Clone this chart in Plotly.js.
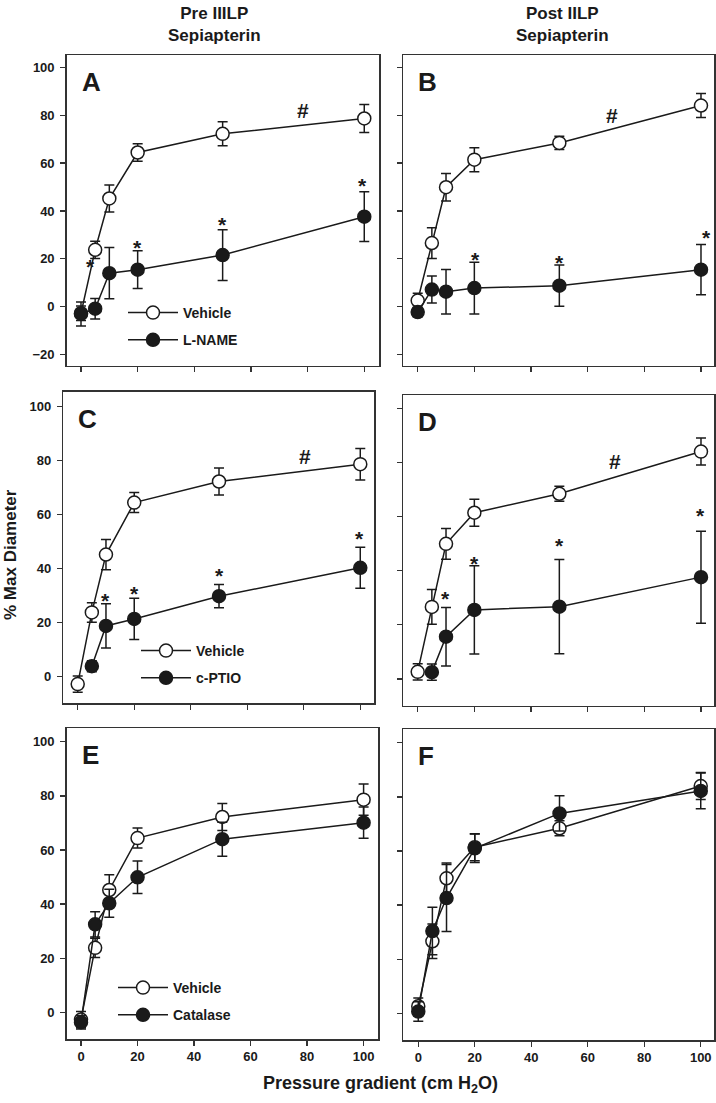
<!DOCTYPE html>
<html>
<head>
<meta charset="utf-8">
<script src="https://cdn.plot.ly/plotly-3.0.1.min.js"></script>
<style>html,body{margin:0;padding:0;background:#fff;}#chart{width:716px;height:1103px;}</style>
</head>
<body>
<div id="chart"></div>
<script>
// ---- data ----
const pressure = [0, 5, 10, 20, 50, 100];
const pressureFrom5 = [5, 10, 20, 50, 100];

// Pre IIILP vehicle (panels A, C, E)
const preVehicle = [-2.7, 23.8, 45.2, 64.4, 72.2, 78.6];
const preVehicleErr = [3.0, 3.6, 5.6, 3.7, 5.0, 5.8];
// Post IILP vehicle (panels B, D, F)
const postVehicle = [2.6, 26.6, 49.9, 61.4, 68.4, 84.0];
const postVehicleErr = [3.0, 6.4, 5.7, 5.0, 2.8, 5.0];

const preLNAME = [-3.0, -0.8, 14.0, 15.5, 21.6, 37.6];
const preLNAMEErr = [5.0, 4.3, 10.7, 7.9, 10.6, 10.4];
const postLNAME = [-2.2, 7.2, 6.3, 7.8, 8.8, 15.5];
const postLNAMEErr = [2.0, 5.6, 9.3, 10.8, 8.6, 10.5];

const preCPTIO = [3.9, 18.8, 21.4, 29.8, 40.3];
const preCPTIOErr = [2.0, 8.2, 7.6, 4.3, 7.6];
const postCPTIO = [2.5, 15.6, 25.5, 26.7, 37.6];
const postCPTIOErr = [3.0, 10.8, 16.3, 17.4, 17.0];

const preCatalase = [-3.7, 32.5, 40.3, 49.9, 64.0, 70.1];
const preCatalaseErr = [2.5, 4.7, 5.2, 6.0, 6.3, 5.8];
const postCatalase = [0.6, 30.4, 42.6, 61.0, 73.9, 82.2];
const postCatalaseErr = [3.6, 8.8, 12.4, 5.3, 6.5, 6.6];

// significance marks: [x, y]
const starsA = [[3.5, 18.8], [20, 26.9], [50, 36.6], [99.5, 52.5]];
const hashA = [78.5, 82.1];
const starsB = [[20.5, 21.8], [50, 20.6], [102, 30.9]];
const hashB = [68.5, 80];
const starsC = [[10, 30.2], [20, 32.7], [50, 39.4], [99.7, 52.8]];
const hashC = [80.4, 81.6];
const starsD = [[9.9, 31.7], [20.2, 44.6], [50.2, 51.3], [100, 62.4]];
const hashD = [69.6, 80.5];

const panelLetters = ['A', 'B', 'C', 'D', 'E', 'F'];
const colTitles = ['Pre IIILP<br>Sepiapterin', 'Post IILP<br>Sepiapterin'];
const xTitle = 'Pressure gradient (cm H<sub>2</sub>O)';
const yTitle = '% Max Diameter';
const legendNames = [['Vehicle', 'L-NAME'], ['Vehicle', 'c-PTIO'], ['Vehicle', 'Catalase']];

// ---- layout helpers ----
const W = 716, H = 1103;
const FONT = 'Liberation Sans, Arial, sans-serif';
const INK = '#1a1a1a';
const BOLD = 700;
function dx(a, b) { return [a / W, b / W]; }
function dy(top, bottom) { return [1 - bottom / H, 1 - top / H]; }

const panels = [
  {x: [66.7, 379], y: [55, 365.7], xr: [-5.05, 105.2], yr: [-24.6, 105.1], xl: false, yl: true},
  {x: [403.3, 714.3], y: [55, 365.7], xr: [-5.08, 104.7], yr: [-24.6, 105.1], xl: false, yl: false},
  {x: [63.3, 374.3], y: [391.7, 703.3], xr: [-5.1, 104.96], yr: [-9.8, 105.4], xl: false, yl: true},
  {x: [403.3, 714.3], y: [395, 705.7], xr: [-5.08, 104.7], yr: [-9.9, 104.9], xl: false, yl: false},
  {x: [66.7, 378.3], y: [728.3, 1039], xr: [-5.06, 105.2], yr: [-9.9, 105], xl: true, yl: true},
  {x: [403.3, 714.3], y: [729.3, 1040], xr: [-5.3, 104.8], yr: [-9.9, 105], xl: true, yl: false}
];

const layout = {
  width: W, height: H,
  margin: {l: 0, r: 0, t: 0, b: 0},
  paper_bgcolor: '#fff', plot_bgcolor: '#fff',
  font: {family: FONT, color: INK, size: 13, weight: BOLD},
  showlegend: true,
  annotations: [], shapes: []
};

panels.forEach((p, i) => {
  const n = i === 0 ? '' : String(i + 1);
  layout['xaxis' + n] = {
    domain: dx(p.x[0], p.x[1]), range: p.xr, anchor: 'y' + n,
    showgrid: false, zeroline: false, showline: true, mirror: true,
    linecolor: '#333', linewidth: 1.5,
    ticks: 'outside', ticklen: 5, tickwidth: 1.2, tickcolor: '#333',
    tick0: 0, dtick: 20, showticklabels: p.xl,
    tickfont: {family: FONT, size: 13, color: INK, weight: BOLD}
  };
  layout['yaxis' + n] = {
    domain: dy(p.y[0], p.y[1]), range: p.yr, anchor: 'x' + n,
    showgrid: false, zeroline: false, showline: true, mirror: true,
    linecolor: '#333', linewidth: 1.5,
    ticks: 'outside', ticklen: 5, tickwidth: 1.2, tickcolor: '#333',
    tick0: 0, dtick: 20, showticklabels: p.yl, ticklabelstandoff: 3,
    tickfont: {family: FONT, size: 13, color: INK, weight: BOLD}
  };
  layout.annotations.push({
    xref: 'paper', yref: 'paper', x: (p.x[0] + 13) / W, y: 1 - (p.y[0] + 10) / H,
    xanchor: 'left', yanchor: 'top', showarrow: false, text: panelLetters[i],
    font: {family: FONT, size: 26, color: INK, weight: BOLD}
  });
});

function series(xs, ys, es, filled, axIdx, legendId, name) {
  const n = axIdx === 0 ? '' : String(axIdx + 1);
  return {
    type: 'scatter', mode: 'lines+markers', x: xs, y: ys, name: name,
    xaxis: 'x' + n, yaxis: 'y' + n,
    line: {color: INK, width: 1.5},
    marker: {size: 13, color: filled ? INK : '#fff', line: {color: INK, width: 1.5}},
    error_y: {type: 'data', array: es, visible: true, color: INK, thickness: 1.5, width: 5},
    showlegend: !!legendId, legend: legendId || 'legend',
    legendgroup: name + axIdx, cliponaxis: false
  };
}

const data = [
  series(pressure, preVehicle, preVehicleErr, false, 0, 'legend', legendNames[0][0]),
  series(pressure, postVehicle, postVehicleErr, false, 1, null, 'Vehicle'),
  series(pressure, preVehicle, preVehicleErr, false, 2, 'legend2', legendNames[1][0]),
  series(pressure, postVehicle, postVehicleErr, false, 3, null, 'Vehicle'),
  series(pressure, preVehicle, preVehicleErr, false, 4, 'legend3', legendNames[2][0]),
  series(pressure, postVehicle, postVehicleErr, false, 5, null, 'Vehicle'),
  series(pressure, preLNAME, preLNAMEErr, true, 0, 'legend', legendNames[0][1]),
  series(pressure, postLNAME, postLNAMEErr, true, 1, null, 'L-NAME'),
  series(pressureFrom5, preCPTIO, preCPTIOErr, true, 2, 'legend2', legendNames[1][1]),
  series(pressureFrom5, postCPTIO, postCPTIOErr, true, 3, null, 'c-PTIO'),
  series(pressure, preCatalase, preCatalaseErr, true, 4, 'legend3', legendNames[2][1]),
  series(pressure, postCatalase, postCatalaseErr, true, 5, null, 'Catalase')
];

const legendBase = {
  bgcolor: 'rgba(0,0,0,0)', borderwidth: 0, xanchor: 'left', yanchor: 'top',
  traceorder: 'grouped', tracegroupgap: 6, itemwidth: 50,
  font: {family: FONT, size: 14, color: INK, weight: BOLD}
};
layout.legend = Object.assign({}, legendBase, {x: 123 / W, y: 1 - 297 / H});
layout.legend2 = Object.assign({}, legendBase, {x: 136 / W, y: 1 - 635 / H});
layout.legend3 = Object.assign({}, legendBase, {x: 113 / W, y: 1 - 972 / H});

function marks(list, axIdx, txt) {
  const n = axIdx === 0 ? '' : String(axIdx + 1);
  list.forEach(([x, y]) => layout.annotations.push({
    xref: 'x' + n, yref: 'y' + n, x: x, y: y, text: txt, showarrow: false,
    xanchor: 'center', yanchor: 'middle', yshift: txt === '*' ? -5 : 0,
    font: {family: FONT, size: txt === '*' ? 21 : 21, color: INK, weight: BOLD}
  }));
}
marks(starsA, 0, '*'); marks([hashA], 0, '#');
marks(starsB, 1, '*'); marks([hashB], 1, '#');
marks(starsC, 2, '*'); marks([hashC], 2, '#');
marks(starsD, 3, '*'); marks([hashD], 3, '#');

// column titles, axis titles
layout.annotations.push(
  {xref: 'paper', yref: 'paper', x: 214 / W, y: 1 - 2 / H, xanchor: 'center', yanchor: 'top',
   showarrow: false, text: colTitles[0], font: {family: FONT, size: 17, color: INK, weight: BOLD}},
  {xref: 'paper', yref: 'paper', x: 562 / W, y: 1 - 2 / H, xanchor: 'center', yanchor: 'top',
   showarrow: false, text: colTitles[1], font: {family: FONT, size: 17, color: INK, weight: BOLD}},
  {xref: 'paper', yref: 'paper', x: 381 / W, y: 1 - 1084 / H, xanchor: 'center', yanchor: 'middle',
   showarrow: false, text: xTitle, font: {family: FONT, size: 18, color: INK, weight: BOLD}},
  {xref: 'paper', yref: 'paper', x: 10 / W, y: 1 - 555 / H, xanchor: 'center', yanchor: 'middle',
   showarrow: false, textangle: -90, text: yTitle, font: {family: FONT, size: 17, color: INK, weight: BOLD}}
);

Plotly.newPlot('chart', data, layout, {displayModeBar: false, staticPlot: true});
</script>
</body>
</html>
